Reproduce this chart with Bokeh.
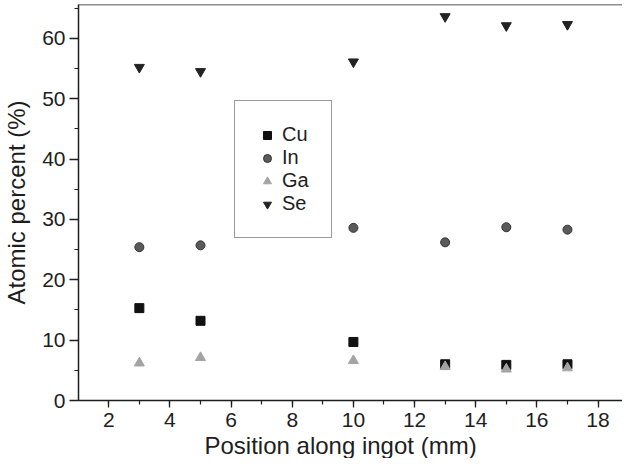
from bokeh.plotting import figure
from bokeh.models import SingleIntervalTicker, Range1d, Span, Title
from bokeh.embed import file_html
from bokeh.resources import INLINE

# --- data ---
position = [3, 5, 10, 13, 15, 17]
cu = [15.3, 13.2, 9.7, 6.0, 5.9, 6.0]
in_ = [25.4, 25.7, 28.6, 26.2, 28.7, 28.3]
ga = [6.2, 7.1, 6.6, 5.6, 5.2, 5.4]
se = [55.2, 54.5, 56.1, 63.6, 62.1, 62.3]

x_label = "Position along ingot (mm)"
y_label = "Atomic percent (%)"

FONT = "Liberation Sans"
INK = "#1e1e1e"
Y_TOP = 65.6

p = figure(width=622, height=458, output_backend="svg", toolbar_location=None,
           x_range=Range1d(1.01, 18.8), y_range=Range1d(0, Y_TOP),
           min_border_left=72, min_border_top=4, min_border_bottom=20,
           min_border_right=0, background_fill_color="white",
           border_fill_color="white")
p.outline_line_color = None
p.xgrid.visible = False
p.ygrid.visible = False

p.scatter(position, cu, marker="square", size=9, fill_color="#111111",
          line_color="#111111", legend_label="Cu")
p.scatter(position, in_, marker="circle", size=9, fill_color="#5a5a5a",
          line_color="#333333", legend_label="In")
p.scatter(position, ga, marker="triangle", size=10, fill_color="#a3a3a3",
          line_color="#a3a3a3", legend_label="Ga")
p.scatter(position, se, marker="inverted_triangle", size=10,
          fill_color="#222222", line_color="#222222", legend_label="Se")

# top frame line
p.add_layout(Span(location=Y_TOP, dimension="width", line_color=INK, line_width=1.5))

for ax in (p.xaxis[0], p.yaxis[0]):
    ax.axis_line_color = INK
    ax.axis_line_width = 1.5
    ax.major_tick_line_color = INK
    ax.minor_tick_line_color = INK
    ax.major_tick_line_width = 1.3
    ax.minor_tick_line_width = 1.2
    ax.major_tick_in = 0
    ax.minor_tick_in = 0
    ax.major_label_text_font = FONT
    ax.major_label_text_font_size = "21px"
    ax.major_label_text_color = INK
    ax.axis_label_text_font = FONT
    ax.axis_label_text_font_size = "24px"
    ax.axis_label_text_font_style = "normal"
    ax.axis_label_text_color = INK

p.xaxis[0].ticker = SingleIntervalTicker(interval=2, num_minor_ticks=2)
p.xaxis[0].major_tick_out = 7
p.xaxis[0].minor_tick_out = 4
p.xaxis[0].major_label_standoff = 5

p.yaxis[0].ticker = SingleIntervalTicker(interval=10, num_minor_ticks=2)
p.yaxis[0].major_tick_out = 9
p.yaxis[0].minor_tick_out = 4
p.yaxis[0].major_label_standoff = 4
p.yaxis[0].axis_label = y_label
p.yaxis[0].axis_label_standoff = 9

# x axis label as a bottom title, placed slightly left of the frame centre
xt = Title(text=x_label, align="left", offset=126, standoff=0,
           text_font=FONT, text_font_size="24px", text_font_style="normal",
           text_color=INK)
p.add_layout(xt, "below")

leg = p.legend[0]
leg.location = (156, 162)
leg.label_text_font = FONT
leg.label_text_font_size = "20px"
leg.label_text_color = INK
leg.padding = 22
leg.spacing = 0
leg.glyph_width = 20
leg.glyph_height = 22
leg.label_height = 22
leg.label_standoff = 5
leg.border_line_color = "#333333"
leg.border_line_width = 1.2
leg.background_fill_color = "white"
leg.background_fill_alpha = 1.0

open("out.html", "w").write(file_html(p, INLINE))
